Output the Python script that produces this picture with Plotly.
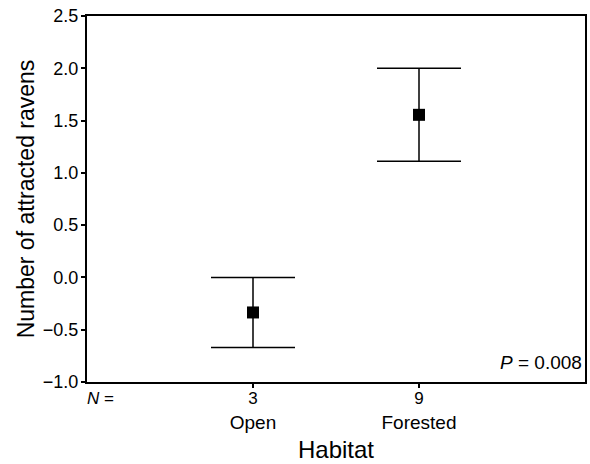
import plotly.graph_objects as go

habitats = ["Open", "Forested"]
n_values = [3, 9]
means = [-0.335, 1.555]
err_up = [0.335, 0.445]
err_down = [0.335, 0.445]
y_ticks = [-1.0, -0.5, 0.0, 0.5, 1.0, 1.5, 2.0, 2.5]
p_text = "<i>P</i> = 0.008"

xpos = list(range(1, len(habitats) + 1))
font = "Liberation Sans, Arial, sans-serif"

fig = go.Figure()
fig.add_trace(go.Scatter(
    x=xpos, y=means, mode="markers",
    marker=dict(symbol="square", size=12, color="black"),
    error_y=dict(type="data", symmetric=False, array=err_up, arrayminus=err_down,
                 color="black", thickness=1.5, width=42),
    showlegend=False,
))

fig.update_layout(
    width=590, height=464,
    margin=dict(l=87, r=3, t=16, b=82),
    paper_bgcolor="white", plot_bgcolor="white",
    font=dict(family=font, color="black", size=16),
    xaxis=dict(
        range=[0, 3], tickvals=xpos,
        ticktext=[f"<span style='font-size:17px'>{n}</span><br>{h}" for n, h in zip(n_values, habitats)],
        ticks="outside", ticklen=4, tickwidth=2, tickcolor="black",
        showline=True, linecolor="black", linewidth=2, mirror=True,
        showgrid=False, zeroline=False,
        tickfont=dict(size=19), ticklabelstandoff=-7,
        title=dict(text="Habitat", font=dict(size=24), standoff=10),
    ),
    yaxis=dict(
        range=[-1.0, 2.5], tickvals=y_ticks,
        ticktext=[f"{v:.1f}".replace("-", "\u2212") for v in y_ticks],
        ticks="outside", ticklen=4, tickwidth=2, tickcolor="black",
        showline=True, linecolor="black", linewidth=2, mirror=True,
        showgrid=False, zeroline=False,
        tickfont=dict(size=18), ticklabelstandoff=-1,
        title=dict(text="Number of attracted ravens", font=dict(size=23), standoff=2),
    ),
    annotations=[
        dict(text=p_text, xref="paper", yref="paper", x=0.997, y=0.02,
             xanchor="right", yanchor="bottom", showarrow=False, font=dict(size=19)),
        dict(text="<i>N</i> =", xref="paper", yref="paper", x=-0.004, y=-0.015,
             xanchor="left", yanchor="top", showarrow=False, font=dict(size=17)),
    ],
)

fig.write_html("out.html", config={"displayModeBar": False},
               post_script="document.body.style.margin='0';document.body.style.overflow='hidden';")
